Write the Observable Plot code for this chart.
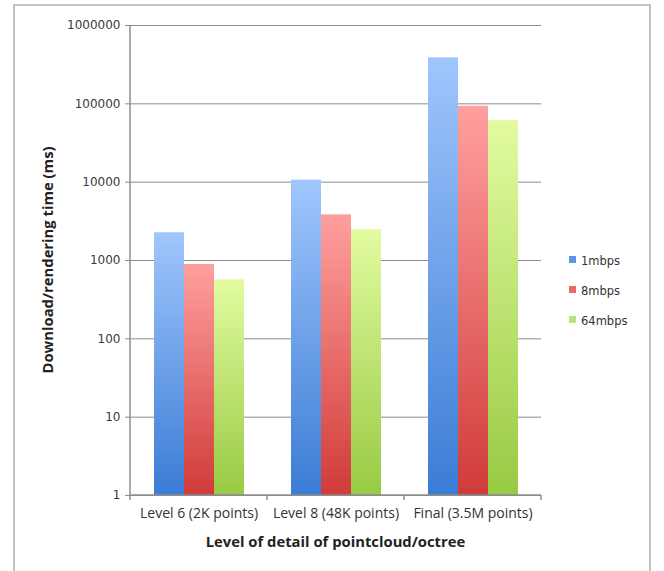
<!DOCTYPE html>
<html>
<head>
<meta charset="utf-8">
<script src="https://cdn.jsdelivr.net/npm/d3@7"></script>
<script src="https://cdn.jsdelivr.net/npm/@observablehq/plot@0.6"></script>
<style>
  html, body { margin: 0; padding: 0; background: #fff; }
  #wrap { position: relative; width: 664px; height: 571px; overflow: hidden; background: #fff; }
  #frame { position: absolute; left: 13px; top: 4px; width: 638px; height: 620px; border: 2px solid #c4c4c4; box-sizing: border-box; pointer-events: none; }
  #legend { position: absolute; left: 569px; top: 246px; font-family: "DejaVu Sans", sans-serif; font-size: 11.5px; color: #333; }
  #legend .item { display: flex; align-items: center; height: 30px; }
  #legend .sw { width: 7px; height: 7px; margin-right: 5px; margin-top: -4px; }
</style>
</head>
<body>
<div id="wrap">
  <div id="chart"></div>
  <div id="legend"></div>
  <div id="frame"></div>
</div>
<script>
// ---- data ----
const categories = ["Level 6 (2K points)", "Level 8 (48K points)", "Final (3.5M points)"];
const series = ["1mbps", "8mbps", "64mbps"];
const values1mbps = [2260, 10600, 387000];
const values8mbps = [890, 3830, 93000];
const values64mbps = [567, 2470, 61000];
const yTicks = [1, 10, 100, 1000, 10000, 100000, 1000000];
const yLabel = "Download/rendering time (ms)";
const xLabel = "Level of detail of pointcloud/octree";

const seriesValues = [values1mbps, values8mbps, values64mbps];
const data = [];
categories.forEach((c, i) => series.forEach((s, j) => data.push({category: c, series: s, value: seriesValues[j][i]})));

// gradient styles (top -> bottom)
const gradients = [
  {id: "gBlue", top: "#a0c6fc", bottom: "#3b7cd5", swatch: "#5b95e6"},
  {id: "gRed", top: "#ffa09e", bottom: "#d03b39", swatch: "#e96a68"},
  {id: "gGreen", top: "#e2fba0", bottom: "#98ca43", swatch: "#b9e47a"}
];

const plot = Plot.plot({
  width: 664,
  height: 571,
  marginLeft: 130,
  marginRight: 123,
  marginTop: 25,
  marginBottom: 76,
  style: {fontFamily: "DejaVu Sans, sans-serif", fontSize: "12px", color: "#3a3a3a", background: "transparent"},
  fx: {domain: categories, padding: 0, label: null},
  x: {domain: series, paddingInner: 0, paddingOuter: 0.74, axis: null},
  y: {type: "log", domain: [1, 1000000], label: null},
  color: {domain: series, range: gradients.map(g => `url(#${g.id})`)},
  marks: [
    Plot.gridY(yTicks, {stroke: "#8c8c8c", strokeOpacity: 1, strokeWidth: 1}),
    Plot.barY(data, {fx: "category", x: "series", y1: 1, y2: "value", fill: "series"}),
    Plot.axisY(yTicks, {tickSize: 5, tickPadding: 5, tickFormat: d => String(d), stroke: "#8c8c8c", label: null, fill: "#3a3a3a"}),
    Plot.axisFx({anchor: "bottom", tickSize: 0, tickPadding: 13, label: null, fontSize: 14, fontFamily: "Open Sans, sans-serif", fill: "#333"})
  ]
});

// defs for gradients
const svg = d3.select(plot);
const defs = svg.insert("defs", ":first-child");
gradients.forEach(g => {
  const lg = defs.append("linearGradient").attr("id", g.id).attr("x1", 0).attr("y1", 0).attr("x2", 0).attr("y2", 1);
  lg.append("stop").attr("offset", "0%").attr("stop-color", g.top);
  lg.append("stop").attr("offset", "100%").attr("stop-color", g.bottom);
});

// axis lines and category boundary ticks, from the plot's scales
const fx = plot.scale("fx");
const ys = plot.scale("y");
const left = fx.apply(categories[0]);
const right = fx.apply(categories[categories.length - 1]) + fx.bandwidth;
const yBottom = ys.apply(1);
const yTop = ys.apply(1000000);
const g = svg.append("g").attr("stroke", "#8c8c8c").attr("stroke-width", 1.5);
g.append("line").attr("x1", left).attr("x2", left).attr("y1", yTop).attr("y2", yBottom);
g.append("line").attr("x1", left).attr("x2", right).attr("y1", yBottom).attr("y2", yBottom);
categories.forEach(c => {
  const xx = fx.apply(c);
  g.append("line").attr("x1", xx).attr("x2", xx).attr("y1", yBottom).attr("y2", yBottom + 5);
});
g.append("line").attr("x1", right).attr("x2", right).attr("y1", yBottom).attr("y2", yBottom + 5);

// axis titles
svg.append("text")
  .attr("transform", `translate(48,${(yTop + yBottom) / 2}) rotate(-90)`)
  .attr("text-anchor", "middle").attr("dy", "0.35em")
  .attr("font-family", "Open Sans, sans-serif").attr("font-weight", "bold").attr("font-size", 14.8).attr("fill", "#222")
  .text(yLabel);
svg.append("text")
  .attr("x", (left + right) / 2).attr("y", 547)
  .attr("text-anchor", "middle")
  .attr("font-family", "Open Sans, sans-serif").attr("font-weight", "bold").attr("font-size", 14.8).attr("fill", "#222")
  .text(xLabel);

document.getElementById("chart").appendChild(plot);

// legend
const legend = d3.select("#legend");
series.forEach((s, i) => {
  const it = legend.append("div").attr("class", "item");
  it.append("div").attr("class", "sw").style("background", gradients[i].swatch);
  it.append("span").text(s);
});
</script>
</body>
</html>
